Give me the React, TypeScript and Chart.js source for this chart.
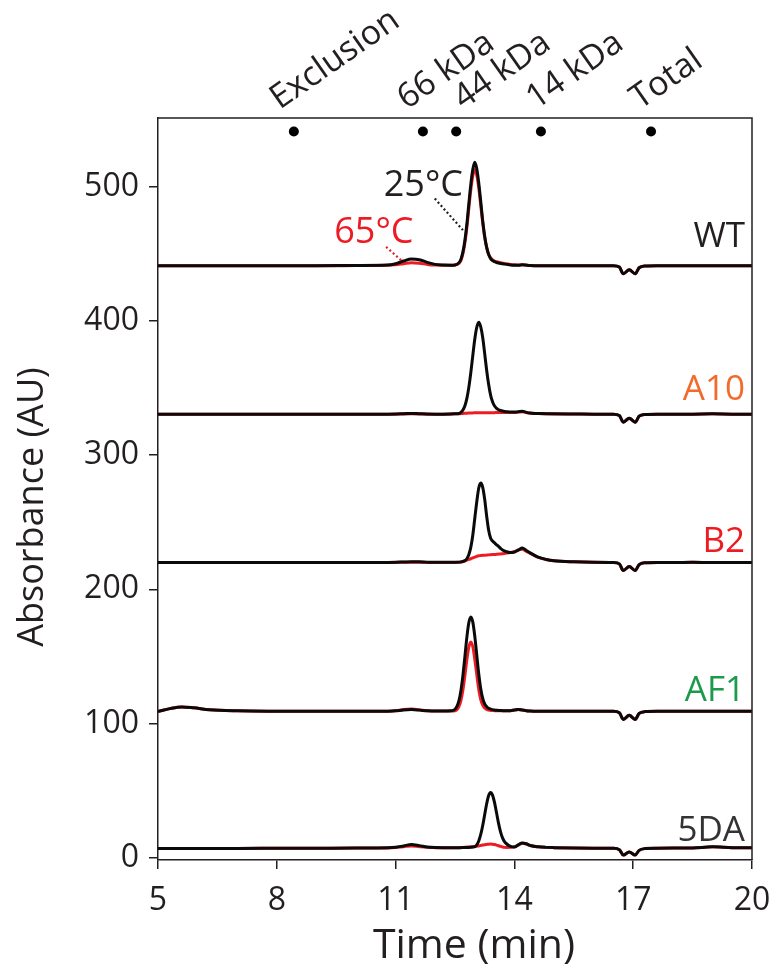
import React, { useEffect, useRef } from 'react';
import { Chart, registerables } from 'chart.js';

Chart.register(...registerables);

// ---- data ----
const TIME = [
  5.0, 5.3, 5.6, 5.9, 6.3, 7.0, 8.0, 9.0, 10.0, 10.8,
  11.0, 11.2, 11.4, 11.6, 11.8, 12.0, 12.2, 12.4, 12.5,
  12.6, 12.65, 12.7, 12.75, 12.8, 12.85, 12.9, 12.95, 13.0, 13.05,
  13.1, 13.15, 13.2, 13.25, 13.3, 13.35, 13.4, 13.45, 13.5, 13.55,
  13.6, 13.65, 13.7, 13.75, 13.8, 13.9, 14.0, 14.1, 14.2, 14.3,
  14.4, 14.6, 14.8, 15.0, 15.5, 16.0, 16.5, 16.65, 16.75, 16.9,
  17.05, 17.15, 17.3, 17.6, 18.0, 18.5, 19.0, 19.5, 20.0,
];

const WT_25C = [
  441, 441, 441, 441, 441, 441, 441, 441, 441.2, 441.5,
  442.5, 444.5, 446, 445.5, 443.5, 442, 441.5, 441.4, 441.6,
  443.3, 445.9, 451.3, 460, 472.2, 487.4, 501.8, 512.8, 518, 513.2,
  502.6, 488.9, 474.4, 463, 454.7, 449.4, 446.3, 444.8, 444, 443.4,
  443, 442.7, 442.4, 442.2, 442, 441.6, 441.4, 441.4, 441.8, 441.5,
  441.2, 441, 441, 441, 441, 441, 441, 440, 435, 438,
  435, 439.5, 440.8, 441, 441, 441, 441, 441, 441,
];
const WT_65C = [
  441, 441, 441, 441, 441, 441, 441, 441, 441.1, 441.3,
  441.8, 442.5, 443.2, 442.8, 442, 441.5, 441.3, 441.3, 441.5,
  442.8, 445, 450, 458, 469.5, 484, 497.8, 508, 512.5, 508.5,
  499, 486, 473, 462, 454.5, 449.5, 446.8, 445.3, 444.5, 444,
  443.6, 443.2, 442.9, 442.6, 442.4, 442, 441.7, 441.5, 441.7, 441.4,
  441.2, 441, 441, 441, 441, 441, 441, 440, 435, 438,
  435, 439.5, 440.8, 441, 441, 441, 441, 441, 441,
];

const A10_25C = [
  330.5, 330.5, 330.5, 330.5, 330.5, 330.5, 330.5, 330.5, 330.5, 330.5,
  330.6, 330.8, 331, 330.8, 330.6, 330.5, 330.5, 330.6, 330.8,
  331, 331.8, 333.5, 336.7, 342.2, 350.6, 361.6, 374.3, 386.5, 395.2,
  399, 395.5, 387.5, 375.5, 363, 352.5, 344.5, 339.5, 336.5, 334.8,
  333.8, 333.2, 332.8, 332.5, 332.3, 332, 332, 332.3, 332.6, 331.8,
  331.3, 331, 330.8, 330.7, 330.6, 330.5, 330.5, 329.5, 324.5, 327.5,
  324.5, 329, 330.3, 330.5, 330.5, 330.5, 330.7, 330.5, 330.5,
];
const A10_65C = [
  330.5, 330.5, 330.5, 330.5, 330.5, 330.5, 330.5, 330.5, 330.5, 330.5,
  330.5, 330.6, 330.7, 330.6, 330.5, 330.5, 330.5, 330.6, 330.7,
  330.8, 330.9, 331, 331.1, 331.2, 331.3, 331.4, 331.4, 331.5, 331.5,
  331.5, 331.5, 331.5, 331.6, 331.6, 331.6, 331.6, 331.6, 331.6, 331.7,
  331.7, 331.7, 331.7, 331.7, 331.8, 331.8, 331.8, 332, 332.3, 331.7,
  331.2, 330.9, 330.7, 330.6, 330.6, 330.5, 330.5, 329.5, 324.5, 327.5,
  324.5, 329, 330.3, 330.5, 330.5, 330.5, 330.7, 330.5, 330.5,
];

const B2_25C = [
  220, 220, 220, 220, 220, 220, 220, 220, 220, 220.1,
  220.2, 220.4, 220.6, 220.5, 220.3, 220.2, 220.2, 220.2, 220.2,
  220.3, 220.5, 220.8, 221.3, 222.8, 226, 231.5, 240.5, 253, 265.3,
  275.5, 279.2, 276, 267, 254.5, 244, 238, 236, 234.6, 233.2,
  232, 230.5, 229.4, 228.6, 228, 227.4, 227.8, 229.3, 230.8, 229,
  227.2, 224, 222.3, 221.3, 220.5, 220.2, 220, 219, 214, 217,
  214, 218.5, 219.8, 220, 220, 220.2, 220, 220, 220,
];
const B2_65C = [
  220, 220, 220, 220, 220, 220, 220, 220, 220, 220,
  220.1, 220.2, 220.3, 220.2, 220.1, 220.1, 220.1, 220.1, 220.1,
  220.2, 220.4, 220.8, 221.3, 221.8, 222.3, 222.8, 223.4, 224, 224.6,
  225, 225.2, 225.4, 225.5, 225.6, 225.7, 225.8, 225.9, 226, 226.1,
  226.3, 226.4, 226.6, 226.8, 227, 227.5, 228.2, 229.4, 229.8, 228.3,
  226.8, 223.8, 222.2, 221.3, 220.5, 220.2, 220, 219, 214, 217,
  214, 218.5, 219.8, 220, 220, 220.2, 220, 220, 220,
];

const AF1_25C = [
  109, 111.2, 112.5, 111.8, 110.4, 109.6, 109.3, 109.2, 109.2, 109.3,
  109.6, 110.2, 110.5, 110.1, 109.6, 109.4, 109.4, 109.6, 110.7,
  117.2, 124.8, 136, 150, 164.5, 175.4, 179.5, 175.6, 165, 151,
  137, 126, 118.8, 114.8, 112.7, 111.5, 110.9, 110.5, 110.2, 110,
  109.9, 109.8, 109.7, 109.7, 109.6, 109.7, 110.2, 110.6, 110.2, 109.7,
  109.5, 109.3, 109.2, 109.2, 109.2, 109.2, 109.2, 108.2, 103.2, 106.2,
  103.2, 107.7, 109, 109.2, 109.2, 109.3, 109.2, 109.3, 109.3,
];
const AF1_65C = [
  109, 111.2, 112.5, 111.8, 110.4, 109.6, 109.3, 109.2, 109.2, 109.3,
  109.7, 110.5, 110.9, 110.3, 109.7, 109.4, 109.4, 109.5, 109.7,
  112.8, 117.3, 125, 135.8, 147.7, 157.2, 160.9, 157.3, 148, 136.5,
  125.5, 118, 113.8, 111.6, 110.6, 110.1, 109.9, 109.8, 109.7, 109.7,
  109.6, 109.6, 109.6, 109.6, 109.6, 109.7, 110.1, 110.5, 110.1, 109.7,
  109.5, 109.3, 109.2, 109.2, 109.2, 109.2, 109.2, 108.2, 103.2, 106.2,
  103.2, 107.7, 109, 109.2, 109.2, 109.3, 109.2, 109.3, 109.3,
];

const DA5_25C = [
  7.1, 7.1, 7.1, 7.1, 7.1, 7.1, 7.2, 7.3, 7.4, 7.6,
  8, 9, 10, 9.2, 8.2, 7.8, 7.7, 7.7, 7.7,
  7.7, 7.7, 7.8, 7.8, 7.9, 7.9, 8, 8.1, 8.4, 9.8,
  12.7, 17.5, 24.2, 32.4, 40.4, 46.5, 48.7, 46.6, 41, 33.5,
  25.8, 19.5, 15, 12.2, 10.6, 8.7, 8.2, 9.8, 11.2, 10.6,
  9.3, 8.3, 7.9, 7.7, 7.4, 7.3, 7.2, 6.2, 2.2, 4.5,
  2.2, 5.7, 7, 7.3, 7.4, 7.5, 8.3, 7.7, 7.6,
];
const DA5_65C = [
  7.1, 7.1, 7.1, 7.1, 7.1, 7.1, 7.2, 7.3, 7.4, 7.5,
  7.8, 8.4, 9, 8.4, 7.9, 7.7, 7.6, 7.6, 7.6,
  7.7, 7.8, 7.9, 8, 8.1, 8.2, 8.3, 8.4, 8.6, 8.8,
  9, 9.3, 9.6, 9.9, 10.1, 10.3, 10.4, 10.3, 10, 9.6,
  9.1, 8.6, 8.2, 7.9, 7.8, 7.9, 8.3, 9.7, 10.9, 10.4,
  9.2, 8.3, 7.9, 7.7, 7.4, 7.3, 7.2, 6.2, 2.2, 4.5,
  2.2, 5.7, 7, 7.3, 7.4, 7.5, 8.3, 7.7, 7.6,
];

const SAMPLE_NAMES = ['WT', 'A10', 'B2', 'AF1', '5DA'];
const SERIES_25C = [WT_25C, A10_25C, B2_25C, AF1_25C, DA5_25C];
const SERIES_65C = [WT_65C, A10_65C, B2_65C, AF1_65C, DA5_65C];

const MARKER_LABELS = ['Exclusion', '66 kDa', '44 kDa', '14 kDa', 'Total'];
const MARKER_TIMES = [8.43, 11.69, 12.53, 14.67, 17.45];
const MARKER_LEVEL = 541;

const X_TICKS = [5, 8, 11, 14, 17, 20];
const Y_TICKS = [0, 100, 200, 300, 400, 500];
const X_TITLE = 'Time (min)';
const Y_TITLE = 'Absorbance (AU)';

// ---- styles ----
const FONT = '"Open Sans", "Noto Sans", sans-serif';
const TEXT = '#231f20';
const AXIS = '#231f20';
const RED = '#ed1c24';
const BLACK = '#0a0a0a';
const NAME_COLORS = ['#231f20', '#f26b2b', '#ed1c24', '#1c9a4b', '#333333'];
const NAME_BASELINE_VALUES = [455, 341, 228, 117, 13];
const MARKER_LABEL_DX = [-14, -16, 7, -5, -11];

const overlayPlugin = {
  id: 'overlay',
  afterDraw(chart: any) {
    const { ctx, chartArea: a, scales } = chart;
    const x = scales.x;
    const y = scales.y;
    ctx.save();
    // top & right frame
    ctx.strokeStyle = AXIS;
    ctx.lineWidth = 1.5;
    ctx.beginPath();
    ctx.moveTo(a.left, a.top);
    ctx.lineTo(a.right, a.top);
    ctx.lineTo(a.right, a.bottom);
    ctx.stroke();

    // axis titles
    ctx.fillStyle = TEXT;
    ctx.textAlign = 'center';
    ctx.textBaseline = 'middle';
    ctx.font = `41px ${FONT}`;
    ctx.fillText(X_TITLE, a.left + 316, a.bottom + 86);
    ctx.save();
    ctx.translate(33, a.top + 389);
    ctx.rotate(-Math.PI / 2);
    ctx.font = `36px ${FONT}`;
    ctx.fillText(Y_TITLE, 0, 0);
    ctx.restore();

    // marker labels (rotated)
    ctx.font = `34px ${FONT}`;
    ctx.textAlign = 'left';
    ctx.textBaseline = 'alphabetic';
    MARKER_LABELS.forEach((lab, i) => {
      const px = x.getPixelForValue(MARKER_TIMES[i]) + MARKER_LABEL_DX[i];
      ctx.save();
      ctx.translate(px, a.top - 8);
      ctx.rotate((-35 * Math.PI) / 180);
      ctx.fillText(lab, 0, 0);
      ctx.restore();
    });

    // sample names
    ctx.font = `35px ${FONT}`;
    ctx.textAlign = 'right';
    SAMPLE_NAMES.forEach((n, i) => {
      ctx.fillStyle = NAME_COLORS[i];
      ctx.fillText(n, a.right - 7, y.getPixelForValue(NAME_BASELINE_VALUES[i]));
    });

    // temperature annotations
    ctx.textAlign = 'left';
    ctx.font = `36px ${FONT}`;
    ctx.fillStyle = TEXT;
    ctx.fillText('25°C', x.getPixelForValue(10.7), y.getPixelForValue(493));
    ctx.fillStyle = RED;
    ctx.fillText('65°C', x.getPixelForValue(9.45), y.getPixelForValue(458));

    ctx.lineWidth = 2.2;
    ctx.setLineDash([2, 2.5]);
    ctx.strokeStyle = TEXT;
    ctx.beginPath();
    ctx.moveTo(x.getPixelForValue(11.99), y.getPixelForValue(491));
    ctx.lineTo(x.getPixelForValue(12.7), y.getPixelForValue(467.5));
    ctx.stroke();
    ctx.strokeStyle = RED;
    ctx.beginPath();
    ctx.moveTo(x.getPixelForValue(10.76), y.getPixelForValue(455));
    ctx.lineTo(x.getPixelForValue(11.15), y.getPixelForValue(444.8));
    ctx.stroke();
    ctx.restore();
  },
};

export default function App() {
  const ref = useRef<HTMLCanvasElement | null>(null);

  useEffect(() => {
    document.body.style.margin = '0';
    const canvas = ref.current;
    if (!canvas) return;

    const datasets: any[] = [];
    SERIES_65C.forEach((s, i) => {
      datasets.push({
        label: SAMPLE_NAMES[i] + ' 65°C',
        data: TIME.map((t, k) => ({ x: t, y: s[k] })),
        borderColor: RED,
        borderWidth: 3,
        pointRadius: 0,
        cubicInterpolationMode: 'monotone',
        fill: false,
        order: 3,
      });
    });
    SERIES_25C.forEach((s, i) => {
      datasets.push({
        label: SAMPLE_NAMES[i] + ' 25°C',
        data: TIME.map((t, k) => ({ x: t, y: s[k] })),
        borderColor: BLACK,
        borderWidth: 3,
        pointRadius: 0,
        cubicInterpolationMode: 'monotone',
        fill: false,
        order: 2,
      });
    });
    datasets.push({
      label: 'markers',
      data: MARKER_TIMES.map((t) => ({ x: t, y: MARKER_LEVEL })),
      showLine: false,
      pointRadius: 5,
      pointBackgroundColor: '#000',
      pointBorderWidth: 0,
      borderColor: '#000',
      order: 1,
    });

    const chart = new Chart(canvas, {
      type: 'line',
      data: { datasets },
      options: {
        responsive: false,
        animation: false,
        devicePixelRatio: 1,
        layout: { padding: { left: 0, right: 25, top: 118, bottom: 0 } },
        plugins: { legend: { display: false }, tooltip: { enabled: false } },
        scales: {
          x: {
            type: 'linear',
            min: 5,
            max: 20,
            afterBuildTicks: (s: any) => {
              s.ticks = X_TICKS.map((v) => ({ value: v }));
            },
            afterFit: (s: any) => {
              s.height = 116;
              s.paddingLeft = 0;
              s.paddingRight = 0;
            },
            ticks: {
              font: { family: FONT, size: 32 },
              color: TEXT,
              padding: 13,
              maxRotation: 0,
              autoSkip: false,
            },
            grid: { drawOnChartArea: false, drawTicks: true, tickLength: 9, color: AXIS, lineWidth: 1.5 },
            border: { display: true, color: AXIS, width: 1.5 },
          },
          y: {
            type: 'linear',
            min: -1.5,
            max: 551,
            afterBuildTicks: (s: any) => {
              s.ticks = Y_TICKS.map((v) => ({ value: v }));
            },
            afterFit: (s: any) => {
              s.width = 158;
              s.paddingTop = 0;
              s.paddingBottom = 0;
            },
            ticks: {
              font: { family: FONT, size: 32 },
              color: TEXT,
              padding: 10,
            },
            grid: { drawOnChartArea: false, drawTicks: true, tickLength: 9, color: AXIS, lineWidth: 1.5 },
            border: { display: true, color: AXIS, width: 1.5 },
          },
        },
      },
      plugins: [overlayPlugin],
    });

    return () => chart.destroy();
  }, []);

  return (
    <div style={{ position: 'absolute', left: 0, top: 0, width: 777, height: 976 }}>
      <canvas ref={ref} width={777} height={976} style={{ width: 777, height: 976 }} />
    </div>
  );
}
